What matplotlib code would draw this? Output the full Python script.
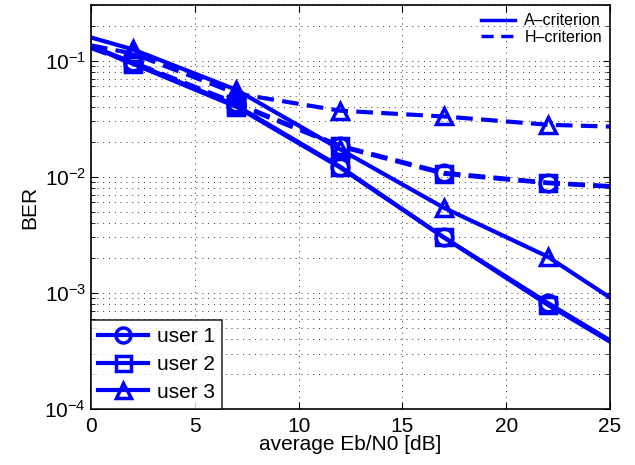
import matplotlib
matplotlib.use("Agg")
import matplotlib.pyplot as plt
from matplotlib.lines import Line2D
from matplotlib.ticker import LogLocator, NullFormatter

plt.rcParams["font.family"] = ["Liberation Sans", "DejaVu Sans"]
plt.rcParams["mathtext.fontset"] = "custom"
plt.rcParams["mathtext.rm"] = "Liberation Sans"
plt.rcParams["mathtext.it"] = "Liberation Sans:italic"
plt.rcParams["mathtext.bf"] = "Liberation Sans:bold"

# Eb/N0 grid (markers only on the inner points)
snr = [0, 2, 7, 12, 17, 22, 25]

# A-criterion (solid)
ber_a_user1 = [0.134, 0.096, 0.041, 0.0122, 0.0030, 0.00082, 0.00039]
ber_a_user2 = [0.132, 0.094, 0.040, 0.0120, 0.0030, 0.00079, 0.00038]
ber_a_user3 = [0.158, 0.125, 0.056, 0.0172, 0.0054, 0.00205, 0.00091]

# H-criterion (dashed)
ber_h_user1 = [0.130, 0.097, 0.043, 0.0185, 0.0108, 0.0089, 0.0083]
ber_h_user2 = [0.128, 0.095, 0.042, 0.0182, 0.0106, 0.0088, 0.0082]
ber_h_user3 = [0.135, 0.115, 0.052, 0.037, 0.033, 0.028, 0.027]

users = ["user 1", "user 2", "user 3"]
markers = ["o", "s", "^"]
blue = "#0000ff"

fig = plt.figure(figsize=(6.35, 4.65), dpi=100)
ax = fig.add_axes([0.1433, 0.1204, 0.8173, 0.8686])

mk = dict(color=blue, lw=3, ms=12, mfc="none", mew=2.5, markevery=[1, 2, 3, 4, 5])
handles = []
for ber_a, ber_h, m, name in zip([ber_a_user1, ber_a_user2, ber_a_user3],
                                 [ber_h_user1, ber_h_user2, ber_h_user3],
                                 markers, users):
    h, = ax.semilogy(snr, ber_a, marker=m, ls="-", label=name, **mk)
    ax.semilogy(snr, ber_h, marker=m, ls=(0, (4, 2)), **mk)
    handles.append(h)

ax.set_xlim(0, 25)
ax.set_ylim(1e-4, 0.3)
ax.set_xticks([0, 5, 10, 15, 20, 25])
ax.yaxis.set_major_locator(LogLocator(base=10, numticks=10))
ax.yaxis.set_minor_locator(LogLocator(base=10, subs=range(2, 10), numticks=20))
ax.yaxis.set_minor_formatter(NullFormatter())

dots = (0, (1, 5))
ax.grid(which="major", axis="both", ls=dots, color="#333333", lw=0.7)
ax.grid(which="minor", axis="y", ls=dots, color="#333333", lw=0.7)

ax.tick_params(which="both", direction="in", top=True, right=True, labelsize=15)
ax.tick_params(which="major", length=5)
ax.tick_params(which="minor", length=3)
ax.tick_params(axis="x", pad=6)
for s in ax.spines.values():
    s.set_linewidth(1.2)

ax.set_xlabel("average Eb/N0 [dB]", fontsize=15, labelpad=-1)
ax.set_ylabel("BER", fontsize=15, labelpad=4)

leg1 = ax.legend(handles=handles, loc="lower left", fontsize=15, frameon=True,
                 fancybox=False, edgecolor="black", handlelength=2.4,
                 borderaxespad=0, borderpad=0.35, labelspacing=0.42,
                 handletextpad=0.4, markerscale=0.9)
leg1.get_frame().set_linewidth(1.2)
ax.add_artist(leg1)

crit = [Line2D([], [], color=blue, lw=2.5, ls="-"),
        Line2D([], [], color=blue, lw=2.5, ls=(0, (3.5, 2.2)))]
ax.legend(crit, ["A\u2013criterion", "H\u2013criterion"], loc="upper right",
          fontsize=11.5, frameon=False, handlelength=2.1, borderaxespad=0.3,
          labelspacing=0.1, handletextpad=0.6, borderpad=0.2)

fig.savefig("out.png", dpi=100)
